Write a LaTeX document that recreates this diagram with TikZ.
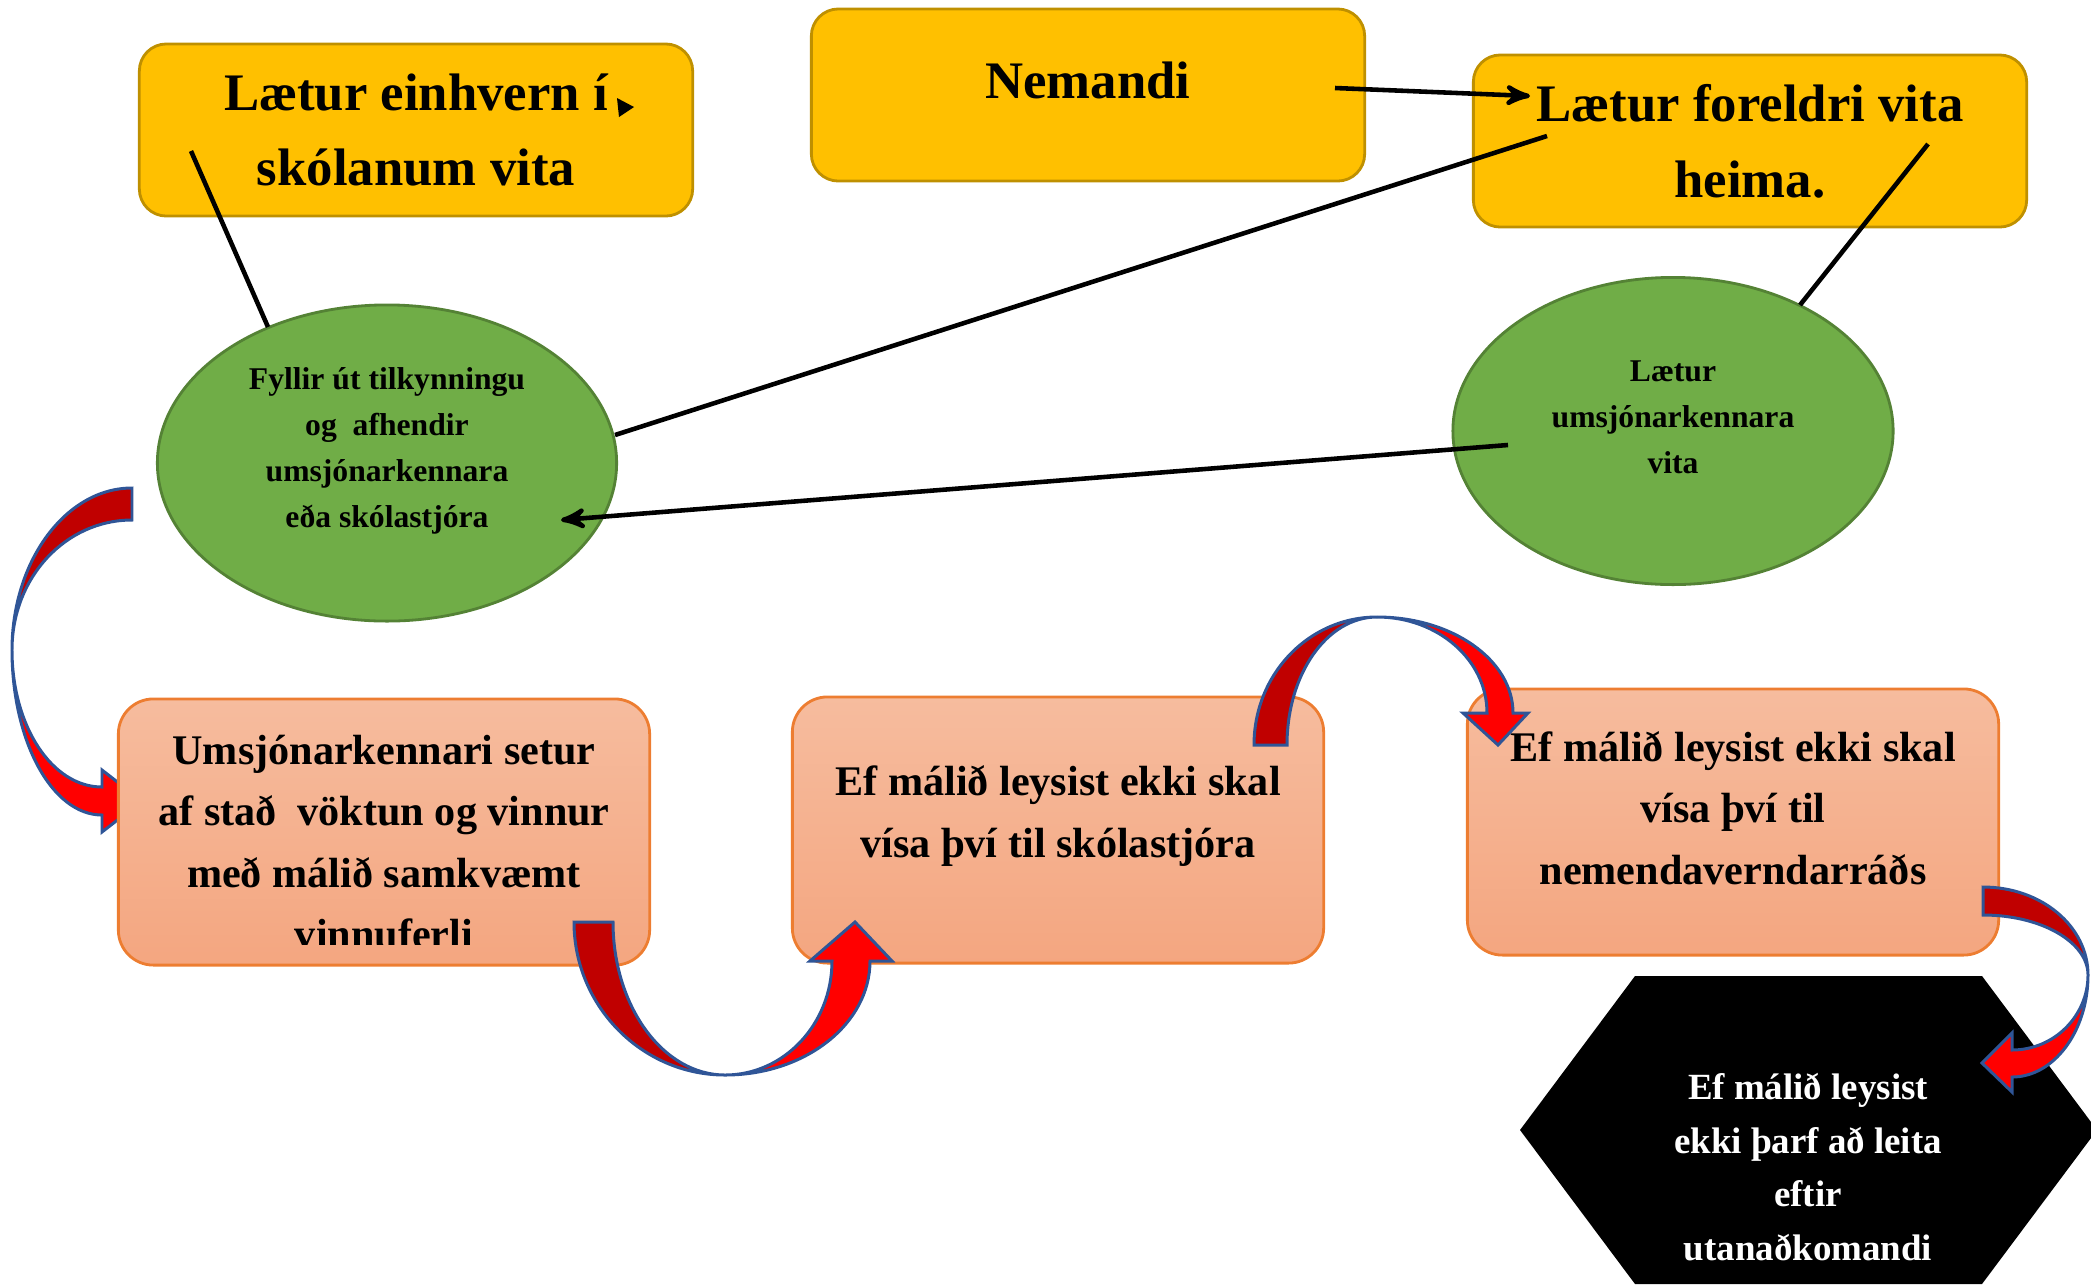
\documentclass[tikz,border=0pt]{standalone}
\usepackage{fontspec}
\setmainfont{Liberation Serif}
\usetikzlibrary{arrows,shapes.geometric}

\definecolor{gold}{RGB}{255,192,0}
\definecolor{golddark}{RGB}{191,144,0}
\definecolor{leaf}{RGB}{112,173,71}
\definecolor{leafdark}{RGB}{84,130,53}
\definecolor{salmontop}{RGB}{246,188,158}
\definecolor{salmonbot}{RGB}{244,166,128}
\definecolor{rust}{RGB}{237,125,49}
\definecolor{arrowdark}{RGB}{192,0,0}
\definecolor{arrowred}{RGB}{255,0,0}
\definecolor{arrowline}{RGB}{47,85,151}

\begin{document}
\begin{tikzpicture}[x=0.01cm,y=-0.01cm,>=stealth',line width=1.3pt]
	\tikzstyle{ybox}=[rectangle,rounded corners=0.27cm,fill=gold,draw=golddark,line width=0.8pt,minimum width=5.53cm,minimum height=1.72cm,align=center,font=\fontsize{15}{21.6}\selectfont\bfseries]
	\tikzstyle{oval}=[ellipse,fill=leaf,draw=leafdark,line width=0.8pt,inner sep=0pt]
	\tikzstyle{ovaltext}=[align=center,font=\fontsize{9}{13.1}\selectfont\bfseries]
	\tikzstyle{obox}=[rectangle,rounded corners=0.35cm,top color=salmontop,bottom color=salmonbot,draw=rust,line width=0.8pt,minimum width=5.31cm,minimum height=2.66cm]
	\tikzstyle{otext}=[align=center,font=\fontsize{12}{17.4}\selectfont\bfseries]
	\tikzstyle{hextext}=[align=center,text=white,font=\fontsize{10.5}{15.3}\selectfont\bfseries]
	\tikzstyle{back}=[fill=arrowdark,draw=arrowline,line width=0.85pt]
	\tikzstyle{front}=[fill=arrowred,draw=arrowline,line width=0.85pt]

	\useasboundingbox (0,0) rectangle (2091,1284);

	\path[back] (132,488) -- (132,520) .. controls (66,520) and (12,577) .. (12,650)
		.. controls (12,561) and (66,488) .. (132,488) -- cycle;
	\path[front] (12,650) .. controls (12,741) and (52,815) .. (102,815) -- (102,832) -- (142,801)
		-- (102,770) -- (102,787) .. controls (52,787) and (12,726) .. (12,650) -- cycle;

	\node[ybox] (skoli) at (416,130) {Lætur einhvern í\\skólanum vita};
	\node[ybox,text depth=0.3cm] (nemandi) at (1088,95) {Nemandi};
	\node[ybox] (foreldri) at (1750,141) {Lætur foreldri vita\\heima.};

	\node[oval,minimum width=4.59cm,minimum height=3.16cm] (tilkynning) at (387,463) {};
	\node[ovaltext,yshift=0.12cm] (tilkynningtxt) at (tilkynning.center) {Fyllir út tilkynningu\\og\ \ afhendir\\umsjónarkennara\\eða skólastjóra};
	\node[oval,minimum width=4.4cm,minimum height=3.07cm] (umsjon) at (1673,431) {};
	\node[ovaltext,yshift=0.14cm] (umsjontxt) at (umsjon.center) {Lætur\\umsjónarkennara\\vita};

	\node[obox] (vaktun) at (384,832) {};
	\begin{scope}
		\clip (119,700) rectangle (649,944);
		\node[otext,yshift=-0.1cm] (vaktuntxt) at (vaktun.center) {Umsjónarkennari setur\\af stað\ \ vöktun og vinnur\\með málið samkvæmt\\vinnuferli};
	\end{scope}
	\node[obox] (skolastjori) at (1058,830) {};
	\node[otext,yshift=0.14cm] (skolastjoritxt) at (skolastjori.center) {Ef málið leysist ekki skal\\vísa því til skólastjóra};
	\node[obox] (radid) at (1733,822) {};
	\node[otext,yshift=0.14cm] (radidtxt) at (radid.center) {Ef málið leysist ekki skal\\vísa því til\\nemendaverndarráðs};

	\fill (617,98) -- (634,107) -- (619,117) -- cycle;

	\coordinate (n1) at (1335,88);
	\coordinate (f1) at (1530,96);
	\coordinate (f2) at (1547,136);
	\coordinate (t1) at (615,435);
	\coordinate (f3) at (1928,144);
	\coordinate (u1) at (1800,305);
	\coordinate (s1) at (191,151);
	\coordinate (t2) at (268,327);
	\coordinate (u2) at (1508,445);
	\coordinate (t3) at (561,520);

	\draw[->] (n1) -- (f1);
	\draw (f2) -- (t1);
	\draw (f3) -- (u1);
	\draw (s1) -- (t2);
	\draw[->] (u2) -- (t3);

	\path[back] (574,922) -- (613,922) .. controls (613,1006) and (663,1075) .. (725,1075)
		.. controls (642,1075) and (574,1006) .. (574,922) -- cycle;
	\path[front] (725,1075) .. controls (805,1075) and (870,1024) .. (870,961) -- (892,961) -- (855,922)
		-- (810,961) -- (832,961) .. controls (832,1024) and (784,1075) .. (725,1075) -- cycle;

	\path[back] (1254,745) -- (1287,745) .. controls (1287,674) and (1327,617) .. (1377,617)
		.. controls (1309,617) and (1254,674) .. (1254,745) -- cycle;
	\path[front] (1377,617) .. controls (1452,617) and (1513,660) .. (1513,713) -- (1528,713) -- (1498,745)
		-- (1463,713) -- (1487,713) .. controls (1487,660) and (1438,617) .. (1377,617) -- cycle;

	\fill (1635,976) -- (1982,976) -- (2097,1130) -- (1982,1284) -- (1635,1284) -- (1520,1130) -- cycle;
	\node[hextext] (utan) at (1808,1167) {Ef málið leysist\\ekki þarf að leita\\eftir\\utanaðkomandi};

	\path[back] (1983,887) -- (1983,915) .. controls (2041,915) and (2088,942) .. (2088,975)
		.. controls (2088,926) and (2041,887) .. (1983,887) -- cycle;
	\path[front] (2088,975) .. controls (2088,1031) and (2054,1077) .. (2012,1077) -- (2012,1092) -- (1982,1063)
		-- (2012,1033) -- (2012,1050) .. controls (2054,1050) and (2088,1016) .. (2088,975) -- cycle;
\end{tikzpicture}
\end{document}
